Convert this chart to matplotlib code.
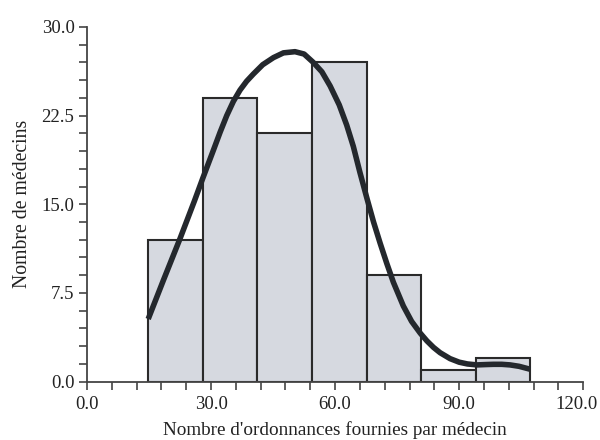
import matplotlib
matplotlib.use("Agg")
import matplotlib.pyplot as plt
import numpy as np
from matplotlib.ticker import MultipleLocator, FuncFormatter, FormatStrFormatter

# Histogram data
bin_edges = [14.8, 28.0, 41.2, 54.4, 67.6, 80.8, 94.0, 107.2]
counts = [12, 24, 21, 27, 9, 1, 2]

# Density curve
curve_x = [14.8, 18.5, 22.5, 26.0, 28.0, 30.6, 32.2, 33.8, 35.4, 37.0, 38.6, 40.2,
           42.5, 45.1, 47.5, 50.3, 52.5, 54.7, 56.8, 58.8, 61.0, 62.8, 64.4, 66.0,
           67.7, 69.3, 70.9, 72.5, 74.1, 76.5, 78.5, 80.6, 82.2, 83.8, 85.4, 87.8,
           90.0, 92.0, 94.3, 96.5, 98.3, 100.3, 102.3, 104.5, 107.2]
curve_y = [5.3, 8.6, 12.1, 15.3, 17.2, 19.6, 21.1, 22.5, 23.7, 24.65, 25.4, 26.0,
           26.8, 27.4, 27.8, 27.9, 27.7, 27.0, 26.2, 25.0, 23.4, 21.7, 19.9, 17.7,
           15.5, 13.5, 11.7, 10.0, 8.4, 6.4, 5.1, 4.1, 3.45, 2.9, 2.45, 1.95,
           1.65, 1.5, 1.42, 1.45, 1.47, 1.47, 1.42, 1.3, 1.05]

xlabel = "Nombre d'ordonnances fournies par médecin"
ylabel = "Nombre de médecins"

plt.rcParams['font.family'] = ['Liberation Serif', 'DejaVu Serif']

fig = plt.figure(figsize=(6, 4.4), dpi=100)
ax = fig.add_axes([0.145, 0.1325, 0.827, 0.8065])

lefts = bin_edges[:-1]
widths = np.diff(bin_edges)
ax.bar(lefts, counts, width=widths, align='edge', color='#d6d9e0',
       edgecolor='#2a2a2a', linewidth=1.5, zorder=2)
ax.plot(curve_x, curve_y, color='#24282d', linewidth=4.0,
        solid_capstyle='butt', solid_joinstyle='round', zorder=3)

XMAX = 120
ax.set_xlim(0, XMAX)
ax.set_ylim(0, 30)
ax.xaxis.set_major_locator(MultipleLocator(30))
ax.xaxis.set_minor_locator(MultipleLocator(6))
ax.yaxis.set_major_locator(MultipleLocator(7.5))
ax.yaxis.set_minor_locator(MultipleLocator(1.5))
ax.xaxis.set_major_formatter(FuncFormatter(
    lambda v, p: '' if abs(v - XMAX) < 1e-9 else f'{v:.1f}'))
ax.yaxis.set_major_formatter(FormatStrFormatter('%.1f'))

for s in ['top', 'right']:
    ax.spines[s].set_visible(False)
for s in ['left', 'bottom']:
    ax.spines[s].set_color('#444444')
    ax.spines[s].set_linewidth(1.3)

ax.tick_params(which='both', direction='out', length=6, width=1.2,
               color='#444444', labelsize=13.5, labelcolor='#222222')
ax.tick_params(axis='x', which='major', pad=4)
ax.tick_params(axis='y', which='major', pad=3)

# last x tick label, nudged left so it stays inside the figure
ax.annotate(f'{XMAX:.1f}', xy=(XMAX, 0), xycoords=('data', 'axes fraction'),
            xytext=(-5, -10), textcoords='offset points', ha='center', va='top',
            fontsize=13.5, color='#222222')

ax.set_xlabel(xlabel, fontsize=13.8, color='#222222', labelpad=6)
ax.set_ylabel(ylabel, fontsize=14.2, color='#222222', labelpad=7)

fig.savefig('out.png', dpi=100)
